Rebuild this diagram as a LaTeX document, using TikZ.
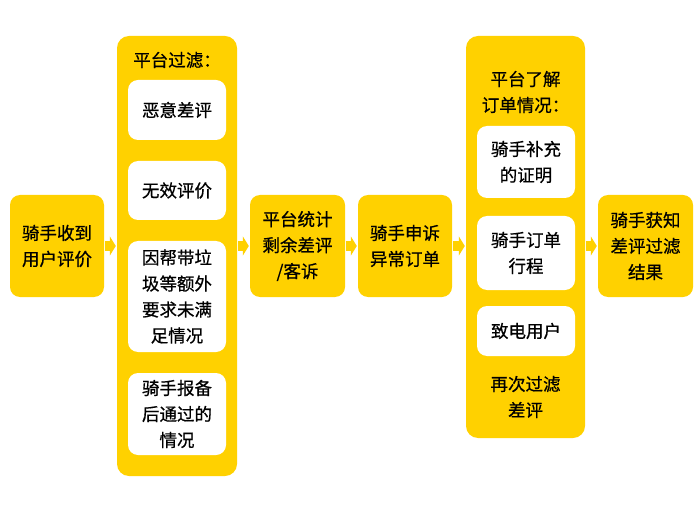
\documentclass[tikz,border=0pt]{standalone}
\usepackage{fontspec}
\setmainfont[FakeBold=0.7]{Noto Sans CJK SC}
\usetikzlibrary{arrows.meta}
\definecolor{ylw}{RGB}{255,209,0}

\tikzset{
  stepbox/.style={fill=ylw, rounded corners=10pt, align=center, inner sep=0pt},
  colbox/.style={fill=ylw, rounded corners=12pt, inner sep=0pt},
  inbox/.style={fill=white, rounded corners=10pt, align=center, inner sep=0pt,
    minimum width=98pt},
  flowarrow/.style={draw=ylw, line width=10pt, shorten <=1pt, shorten >=1pt,
    -{Triangle[length=6pt,width=19pt]}}
}

\begin{document}
\begin{tikzpicture}[x=1pt, y=-1pt,
    every node/.style={font=\fontsize{17.5}{26}\selectfont}]
    \useasboundingbox[fill=white] (0,0) rectangle (700,518);

    % steps of the flow
    \node[stepbox, minimum width=94pt, minimum height=102pt] (recv) at (57,246) {骑手收到\\用户评价};
    \node[colbox, minimum width=120pt, minimum height=440pt] (filt) at (177,256) {};
    \node[stepbox, minimum width=95pt, minimum height=102pt] (stat) at (297.5,246) {平台统计\\剩余差评\\/客诉};
    \node[stepbox, minimum width=94pt, minimum height=102pt] (appeal) at (405,246) {骑手申诉\\异常订单};
    \node[colbox, minimum width=119pt, minimum height=402pt] (check) at (525.5,237) {};
    \node[stepbox, minimum width=95pt, minimum height=102pt] (result) at (645.5,246) {骑手获知\\差评过滤\\结果};

    % first column
    \node (filttitle) at (177,60) {平台过滤：};
    \node[inbox, minimum height=60pt] (f1) at (177,110) {恶意差评};
    \node[inbox, minimum height=59pt] (f2) at (177,190.5) {无效评价};
    \node[inbox, minimum height=111pt] (f3) at (177,296.5) {因帮带垃\\圾等额外\\要求未满\\足情况};
    \node[inbox, minimum height=82pt] (f4) at (177,414) {骑手报备\\后通过的\\情况};

    % second column
    \node[align=center] (checktitle) at (525.5,92) {平台了解\\订单情况：};
    \node[inbox, minimum height=72pt] (c1) at (526,162) {骑手补充\\的证明};
    \node[inbox, minimum height=74pt] (c2) at (526,253) {骑手订单\\行程};
    \node[inbox, minimum height=50pt] (c3) at (526,331) {致电用户};
    \node[align=center] (again) at (525.5,397) {再次过滤\\差评};

    % arrows
    \draw[flowarrow] (recv.east) -- (recv.east -| filt.west);
    \draw[flowarrow] (filt.east |- stat.west) -- (stat.west);
    \draw[flowarrow] (stat.east) -- (appeal.west);
    \draw[flowarrow] (appeal.east) -- (appeal.east -| check.west);
    \draw[flowarrow] (check.east |- result.west) -- (result.west);
\end{tikzpicture}
\end{document}
